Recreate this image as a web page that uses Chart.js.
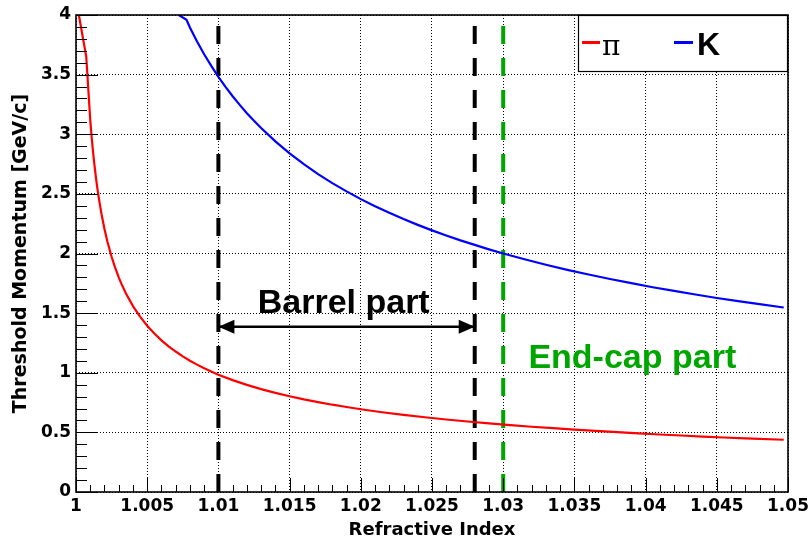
<!DOCTYPE html>
<html>
<head>
<meta charset="utf-8">
<title>Threshold momentum vs refractive index</title>
<script src="https://cdn.jsdelivr.net/npm/chart.js@4.4.0/dist/chart.umd.min.js"></script>
<style>
  html, body { margin: 0; padding: 0; background: #fff; }
  #wrap { width: 810px; height: 539px; }
</style>
</head>
<body>
<div id="wrap"><canvas id="thresholdChart" width="810" height="539"></canvas></div>
<script>

// pion curve
var pionIndex = [1.0002, 1.00072, 1.001, 1.0011, 1.0012, 1.0013, 1.0014, 1.0015, 1.0016, 1.0018,
  1.002, 1.0022, 1.0025, 1.0027, 1.003, 1.0032, 1.0035, 1.004, 1.0045, 1.005,
  1.0055, 1.006, 1.0065, 1.007, 1.0075, 1.008, 1.0085, 1.009, 1.0095, 1.010,
  1.011, 1.012, 1.013, 1.014, 1.015, 1.016, 1.017, 1.018, 1.019, 1.020,
  1.0215, 1.023, 1.0245, 1.026, 1.0275, 1.029, 1.0305, 1.032, 1.0335, 1.035,
  1.0365, 1.038, 1.0395, 1.041, 1.0425, 1.044, 1.0455, 1.047, 1.0497];
var pionMomentum = [4.0, 3.65, 3.120, 2.975, 2.848, 2.736, 2.637, 2.547, 2.466, 2.325,
  2.206, 2.103, 1.973, 1.898, 1.800, 1.743, 1.667, 1.559, 1.470, 1.394,
  1.329, 1.272, 1.222, 1.178, 1.137, 1.101, 1.068, 1.038, 1.010, 0.984,
  0.938, 0.898, 0.863, 0.831, 0.803, 0.777, 0.754, 0.732, 0.713, 0.694,
  0.669, 0.647, 0.627, 0.608, 0.591, 0.575, 0.561, 0.547, 0.535, 0.523,
  0.512, 0.502, 0.492, 0.482, 0.474, 0.465, 0.457, 0.450, 0.438];

// kaon curve
var kaonIndex = [1.00722, 1.00776, 1.008, 1.0085, 1.009, 1.0095, 1.010, 1.0105, 1.011, 1.0115,
  1.012, 1.0125, 1.013, 1.014, 1.015, 1.016, 1.017, 1.018, 1.019, 1.020,
  1.021, 1.022, 1.023, 1.024, 1.025, 1.026, 1.027, 1.028, 1.029, 1.030,
  1.0315, 1.033, 1.0345, 1.036, 1.0375, 1.039, 1.0405, 1.042, 1.0435, 1.045,
  1.0465, 1.048, 1.0497];
var kaonMomentum = [4.0, 3.96, 3.895, 3.778, 3.671, 3.573, 3.482, 3.398, 3.319, 3.246,
  3.177, 3.113, 3.052, 2.940, 2.840, 2.749, 2.666, 2.590, 2.521, 2.456,
  2.396, 2.341, 2.289, 2.240, 2.194, 2.151, 2.110, 2.072, 2.035, 2.000,
  1.952, 1.906, 1.863, 1.824, 1.786, 1.751, 1.717, 1.686, 1.656, 1.627,
  1.600, 1.575, 1.547];

// detector regions
var barrelEdges = [1.01, 1.028];
var endcapEdge = 1.03;
var barrelArrowMomentum = 1.385;

var xTickLabels = ["1", "1.005", "1.01", "1.015", "1.02", "1.025", "1.03", "1.035", "1.04", "1.045", "1.05"];
var yTickLabels = ["0", "0.5", "1", "1.5", "2", "2.5", "3", "3.5", "4"];

function toPoints(xs, ys){
  var pts = [];
  for (var i = 0; i < xs.length; i++) pts.push({x: xs[i], y: ys[i]});
  return pts;
}

function vline(x, color){
  return {
    data: [{x: x, y: 0}, {x: x, y: 4}],
    showLine: true, pointRadius: 0, borderColor: color, borderWidth: 4,
    borderDash: [18, 14], borderCapStyle: 'butt', order: 2
  };
}

var rootStyle = {
  id: 'rootStyle',
  beforeDraw: function(chart){
    var ctx = chart.ctx;
    ctx.save();
    ctx.fillStyle = '#fff';
    ctx.fillRect(0, 0, chart.width, chart.height);
    ctx.restore();
  },
  afterDraw: function(chart){
    var ctx = chart.ctx, a = chart.chartArea;
    var xs = chart.scales.x, ys = chart.scales.y;
    ctx.save();

    // inward ticks
    ctx.strokeStyle = '#000';
    ctx.lineWidth = 1;
    ctx.beginPath();
    for (var i = 0; i <= 50; i++){
      var px = Math.round(xs.getPixelForValue(1 + i * 0.001)) + 0.5;
      var len = (i % 5 === 0) ? 14 : 7;
      ctx.moveTo(px, a.bottom); ctx.lineTo(px, a.bottom - len);
    }
    for (var j = 0; j <= 40; j++){
      var py = Math.round(ys.getPixelForValue(j * 0.1)) + 0.5;
      var l2 = (j % 5 === 0) ? 22 : 11;
      ctx.moveTo(a.left, py); ctx.lineTo(a.left + l2, py);
    }
    ctx.stroke();

    // frame
    ctx.lineWidth = 1.6;
    ctx.strokeRect(a.left, a.top, a.right - a.left, a.bottom - a.top);

    // arrow heads of the barrel span
    var ay = ys.getPixelForValue(barrelArrowMomentum);
    var x1 = xs.getPixelForValue(barrelEdges[0]), x2 = xs.getPixelForValue(barrelEdges[1]);
    ctx.fillStyle = '#000';
    ctx.beginPath();
    ctx.moveTo(x1, ay); ctx.lineTo(x1 + 16, ay - 7); ctx.lineTo(x1 + 16, ay + 7); ctx.closePath();
    ctx.moveTo(x2, ay); ctx.lineTo(x2 - 16, ay - 7); ctx.lineTo(x2 - 16, ay + 7); ctx.closePath();
    ctx.fill();

    // region labels
    ctx.font = 'bold 34px "Liberation Sans", Arial, sans-serif';
    ctx.textBaseline = 'alphabetic';
    ctx.textAlign = 'center';
    ctx.fillStyle = '#000';
    ctx.fillText('Barrel part', xs.getPixelForValue(1.0188), ys.getPixelForValue(1.502));
    ctx.textAlign = 'left';
    ctx.fillStyle = '#00a600';
    ctx.fillText('End-cap part', xs.getPixelForValue(1.03177), ys.getPixelForValue(1.044));

    // legend box
    var lx = 578, ly = a.top, lw = a.right - 578, lh = 57;
    ctx.fillStyle = '#fff';
    ctx.fillRect(lx, ly, lw, lh);
    ctx.lineWidth = 1.2;
    ctx.strokeStyle = '#000';
    ctx.strokeRect(lx + 0.5, ly + 0.5, lw - 1, lh - 1);
    ctx.lineWidth = 3;
    ctx.strokeStyle = '#ff0000';
    ctx.beginPath(); ctx.moveTo(582, 42.5); ctx.lineTo(600, 42.5); ctx.stroke();
    ctx.strokeStyle = '#0000ff';
    ctx.beginPath(); ctx.moveTo(674, 42.5); ctx.lineTo(693, 42.5); ctx.stroke();
    ctx.fillStyle = '#000';
    ctx.font = '28px "DejaVu Serif", serif';
    ctx.fillText('\u03c0', 602, 55);
    ctx.font = 'bold 32px "Liberation Sans", Arial, sans-serif';
    ctx.fillText('K', 697, 55);

    ctx.restore();
  }
};

function drawChart(){
  var ctx = document.getElementById('thresholdChart').getContext('2d');
  var tickFont = {family: '"DejaVu Sans", sans-serif', size: 17, weight: 'bold'};

  var chart = new Chart(ctx, {
    type: 'scatter',
    data: {
      datasets: [
        {
          label: '\u03c0',
          data: toPoints(pionIndex, pionMomentum),
          showLine: true, pointRadius: 0, borderColor: '#ff0000', borderWidth: 2.2,
          tension: 0, order: 0
        },
        {
          label: 'K',
          data: toPoints(kaonIndex, kaonMomentum),
          showLine: true, pointRadius: 0, borderColor: '#0000ff', borderWidth: 2.2,
          tension: 0, order: 0
        },
        {
          label: 'barrel',
          data: [{x: barrelEdges[0], y: barrelArrowMomentum}, {x: barrelEdges[1], y: barrelArrowMomentum}],
          showLine: true, pointRadius: 0, borderColor: '#000', borderWidth: 2.5, order: 1
        },
        vline(barrelEdges[0], '#000'),
        vline(barrelEdges[1], '#000'),
        vline(endcapEdge, '#00a600')
      ]
    },
    options: {
      responsive: false,
      animation: false,
      devicePixelRatio: 1,
      layout: {padding: {left: 0, top: 15, right: 22, bottom: 0}},
      plugins: {legend: {display: false}, tooltip: {enabled: false}},
      scales: {
        x: {
          type: 'linear', min: 1, max: 1.05,
          grid: {drawTicks: false, color: '#000', lineWidth: 1},
          border: {display: false, dash: [1, 2]},
          ticks: {
            stepSize: 0.005, autoSkip: false, maxRotation: 0, padding: 4,
            color: '#000', font: tickFont,
            callback: function(v, i){ return xTickLabels[i]; }
          },
          title: {
            display: true, text: 'Refractive Index', color: '#000',
            font: {family: '"DejaVu Sans", sans-serif', size: 18, weight: 'bold', lineHeight: 1},
            padding: {top: 0, bottom: 0}
          },
          afterFit: function(s){
            s.height = 47;
            s.paddingLeft = 0; s.paddingRight = 0;
          }
        },
        y: {
          type: 'linear', min: 0, max: 4,
          grid: {drawTicks: false, color: '#000', lineWidth: 1},
          border: {display: false, dash: [1, 2]},
          ticks: {
            stepSize: 0.5, padding: 5, color: '#000', font: tickFont,
            callback: function(v, i){ return yTickLabels[i]; }
          },
          title: {
            display: true, text: 'Threshold Momentum [GeV/c]', color: '#000',
            font: {family: '"DejaVu Sans", sans-serif', size: 19, weight: 'bold', lineHeight: 1},
            padding: {top: 12, bottom: 0}
          },
          afterFit: function(s){
            s.width = 76;
            s.paddingTop = 0; s.paddingBottom = 0;
          }
        }
      }
    },
    plugins: [rootStyle]
  });
}

drawChart();
</script>
</body>
</html>
